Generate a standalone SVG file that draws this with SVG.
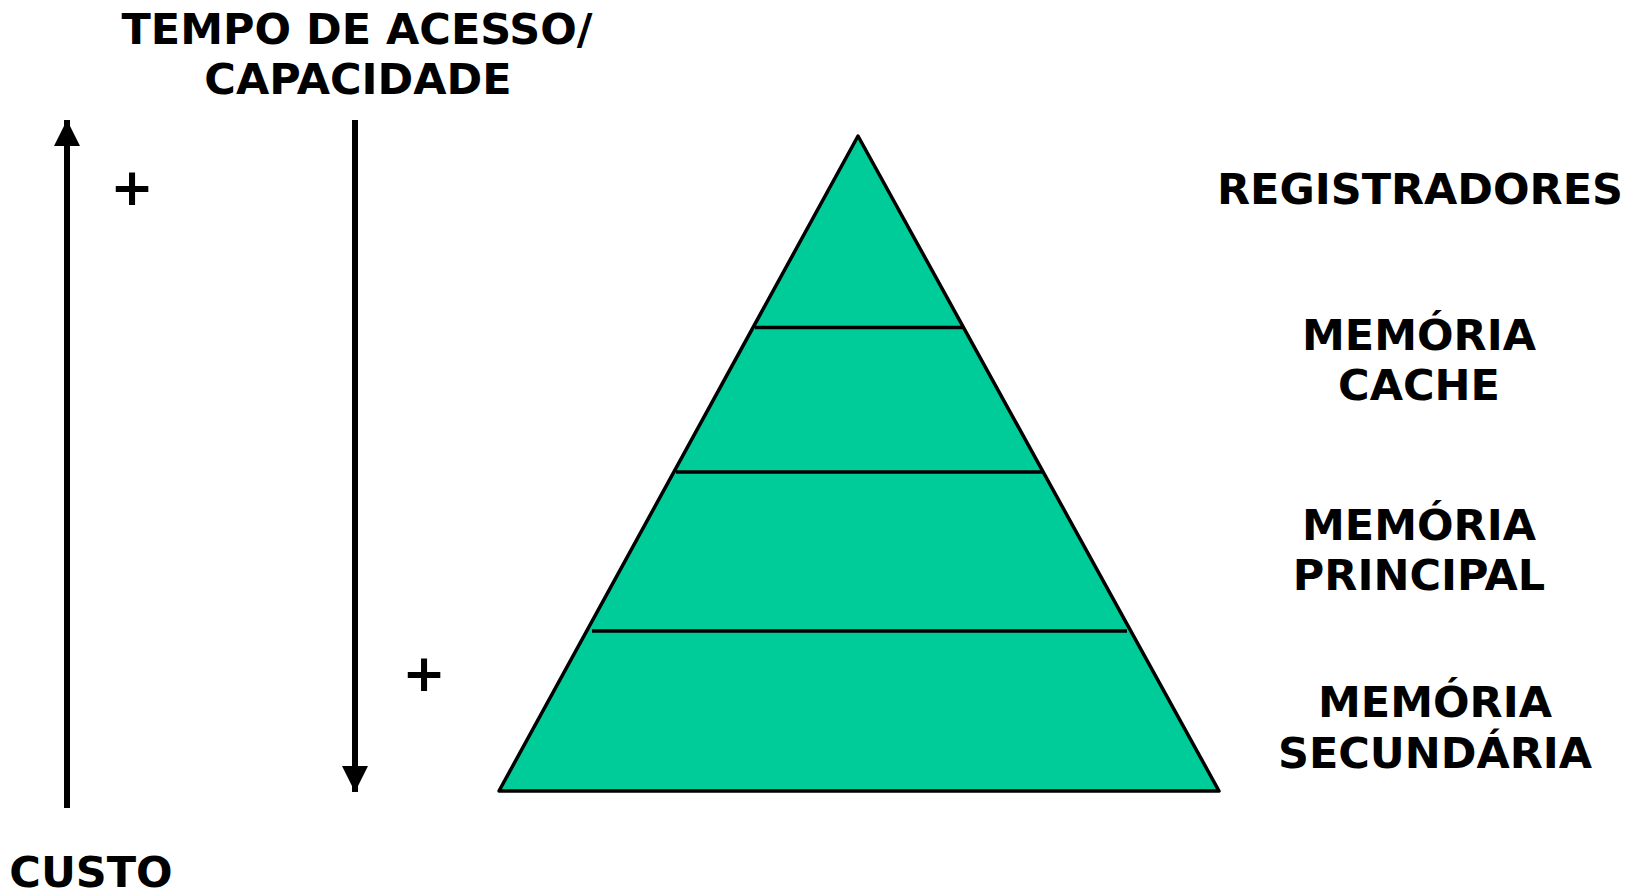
<svg xmlns="http://www.w3.org/2000/svg" width="1639" height="895" viewBox="0 0 1639 895">
<style>
  .t { font-family: "DejaVu Sans", Verdana, sans-serif; font-weight: bold; font-size: 43px; fill: #000; text-anchor: middle; }
  .plus { font-family: "DejaVu Sans", Verdana, sans-serif; font-weight: bold; font-size: 52px; fill: #000; text-anchor: middle; }
  .axis { stroke: #000; stroke-width: 6; fill: none; }
  .pyr { fill: #00CC99; stroke: #000; stroke-width: 3.5; stroke-linejoin: round; }
  .div { stroke: #000; stroke-width: 3.5; }
</style>
<defs>
  <marker id="ah" markerUnits="userSpaceOnUse" markerWidth="26" markerHeight="26" refX="26" refY="13" orient="auto">
    <polygon points="0,0 26,13 0,26" fill="#000"/>
  </marker>
</defs>
<rect width="1639" height="895" fill="#fff"/>

<g id="title">
  <text class="t" x="357" y="44">TEMPO DE ACESSO/</text>
  <text class="t" x="358" y="94">CAPACIDADE</text>
</g>
<g id="custo">
  <text class="t" x="91" y="887">CUSTO</text>
</g>
<g id="plus1"><text class="plus" x="132" y="205">+</text></g>
<g id="plus2"><text class="plus" x="424" y="691">+</text></g>

<g id="connectors">
  <line class="axis" x1="67" y1="808" x2="67" y2="120" marker-end="url(#ah)"/>
  <line class="axis" x1="355" y1="120" x2="355" y2="792" marker-end="url(#ah)"/>
</g>

<g id="pyramid">
  <polygon class="pyr" points="858,136 1219,791 499,791"/>
  <line class="div" x1="755" y1="327.5" x2="963" y2="327.5"/>
  <line class="div" x1="676" y1="472" x2="1042" y2="472"/>
  <line class="div" x1="592" y1="631" x2="1127" y2="631"/>
</g>

<g id="registradores"><text class="t" x="1420" y="204">REGISTRADORES</text></g>
<g id="cache">
  <text class="t" x="1419" y="350">MEMÓRIA</text>
  <text class="t" x="1419" y="400">CACHE</text>
</g>
<g id="principal">
  <text class="t" x="1419" y="540">MEMÓRIA</text>
  <text class="t" x="1419" y="590">PRINCIPAL</text>
</g>
<g id="secundaria">
  <text class="t" x="1435" y="717">MEMÓRIA</text>
  <text class="t" x="1435" y="768">SECUNDÁRIA</text>
</g>
</svg>
